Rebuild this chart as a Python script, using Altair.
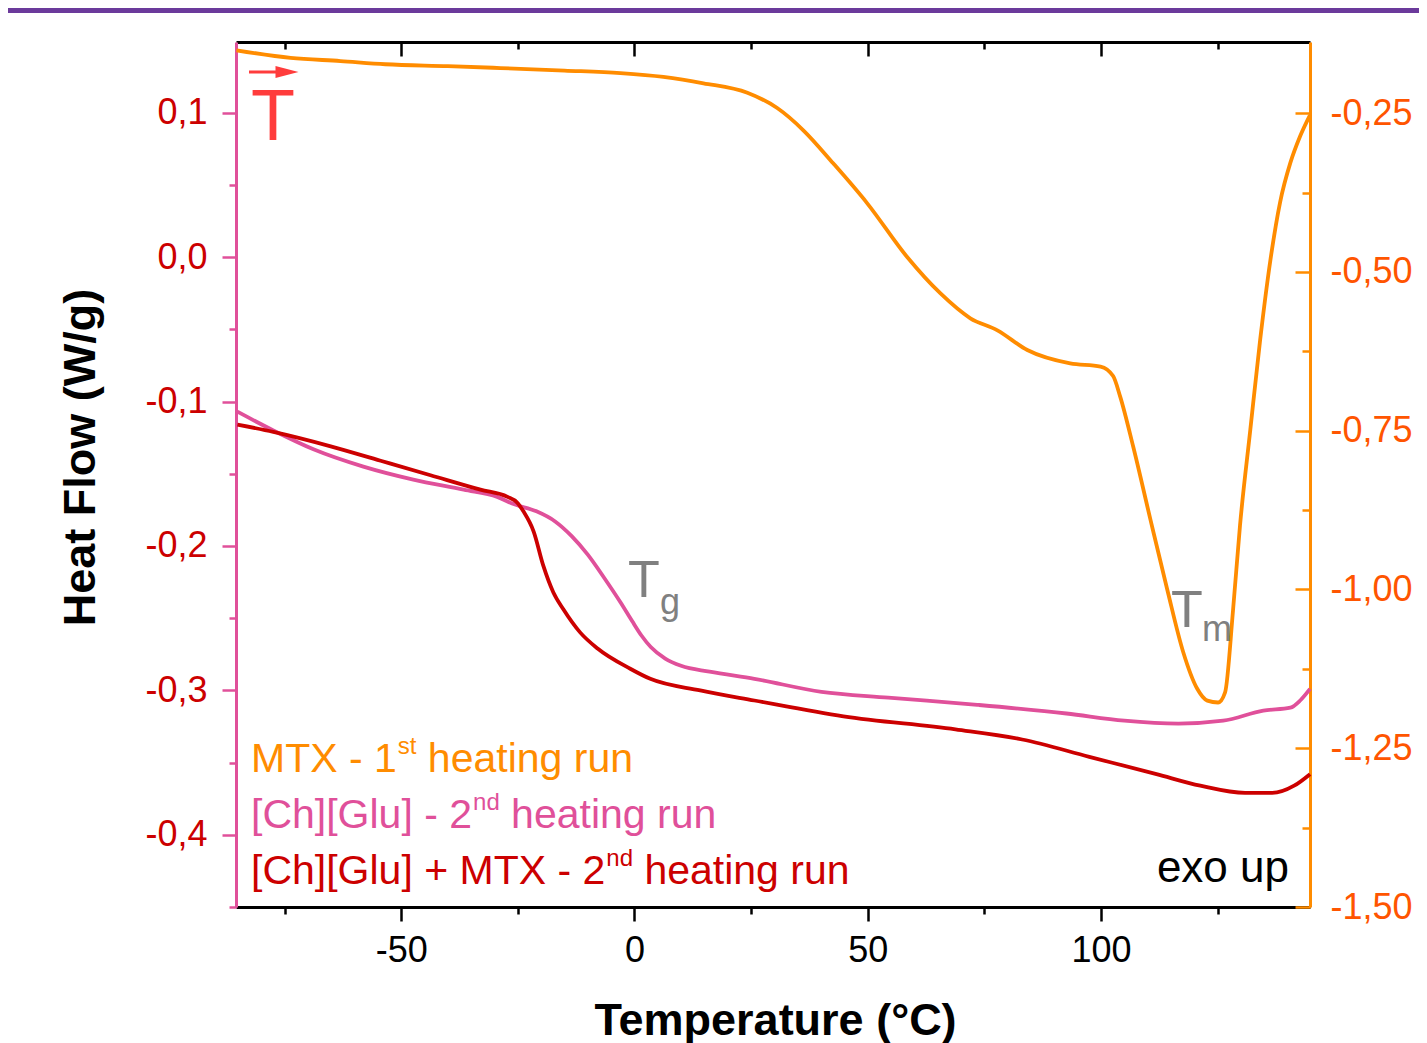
import altair as alt
import pandas as pd

# ---------------- data ----------------
T_MTX = [-85.3, -73.7, -63.0, -53.4, -40.0, -28.7, -15.0, -3.0, 6.2, 14.8, 24.2, 30.6,
         36.2, 42.6, 49.9, 58.5, 65.6, 72.0, 77.8, 84.2, 93.4, 99.9, 102.6, 104.1, 106.9,
         110.6, 114.2, 117.6, 120.6, 122.8, 125.1, 126.6, 128.3, 129.8, 132.0, 134.1,
         136.3, 138.4, 140.6, 142.7, 144.8]
HF_MTX = [-0.151, -0.163, -0.168, -0.173, -0.176, -0.179, -0.183, -0.187, -0.193, -0.203,
          -0.218, -0.242, -0.277, -0.329, -0.392, -0.477, -0.534, -0.573, -0.592, -0.623,
          -0.644, -0.649, -0.664, -0.696, -0.775, -0.890, -1.000, -1.098, -1.156, -1.175,
          -1.178, -1.162, -1.033, -0.899, -0.749, -0.608, -0.482, -0.390, -0.328, -0.286,
          -0.253]

T_CHGLU = [-85.1, -77.4, -68.8, -58.1, -47.4, -36.6, -29.4, -25.9, -21.0, -17.0, -13.5,
           -10.0, -6.5, -3.0, -0.5, 1.5, 3.5, 6.6, 10.0, 16.1, 25.7, 40.1, 54.4, 73.5,
           92.6, 105.0, 116.6, 126.2, 134.8, 140.6, 142.7, 144.8]
HF_CHGLU = [-0.107, -0.120, -0.133, -0.145, -0.154, -0.161, -0.166, -0.171, -0.176, -0.183,
            -0.193, -0.206, -0.222, -0.239, -0.252, -0.262, -0.270, -0.278, -0.283, -0.287,
            -0.292, -0.301, -0.305, -0.310, -0.316, -0.321, -0.323, -0.321, -0.314, -0.312,
            -0.307, -0.299]

T_MIX = [-85.1, -77.4, -65.1, -54.4, -43.7, -33.0, -27.2, -25.1, -23.8, -21.6, -19.5,
         -17.4, -15.2, -11.6, -7.9, -0.9, 3.4, 14.1, 25.7, 44.8, 68.8, 83.1, 97.5, 111.9,
         121.3, 130.9, 136.7, 141.4, 144.8]
HF_MIX = [-0.116, -0.121, -0.131, -0.141, -0.151, -0.161, -0.166, -0.170, -0.176, -0.190,
          -0.214, -0.232, -0.244, -0.260, -0.271, -0.285, -0.292, -0.300, -0.307, -0.318,
          -0.327, -0.334, -0.346, -0.358, -0.366, -0.371, -0.371, -0.366, -0.358]

X_MAJOR = [-50, 0, 50, 100]
X_MINOR = [-75, -25, 25, 75, 125]
YL_MAJOR = [-0.4, -0.3, -0.2, -0.1, 0.0, 0.1]
YL_MINOR = [-0.45, -0.35, -0.25, -0.15, -0.05, 0.05]
YR_MAJOR = [-1.5, -1.25, -1.0, -0.75, -0.5, -0.25]
YR_MINOR = [-1.375, -1.125, -0.875, -0.625, -0.375]

LEGEND = [
    ("MTX - 1", "st", "heating run"),
    ("[Ch][Glu] - 2", "nd", "heating run"),
    ("[Ch][Glu] + MTX - 2", "nd", "heating run"),
]

# ---------------- styling ----------------
W, H = 1074, 865
FONT = "Liberation Sans"
ORANGE = "#FF8C00"
PINK = "#E0509A"
RED = "#CC0000"
LLAB = "#CC0000"
RLAB = "#FF5500"
GRAY = "#808080"
TRED = "#FF3C3C"
LW = 3.8

AW = {' ': 278, '-': 333, '1': 556, '2': 556, 'M': 833, 'T': 611, 'X': 667, '[': 278,
      ']': 278, 'C': 722, 'h': 556, 'G': 778, 'l': 222, 'u': 556, '+': 584, 'e': 556,
      'a': 556, 't': 278, 'i': 222, 'n': 556, 'g': 556, 'r': 333, 's': 500, 'd': 556}


def tw(s, size):
    return sum(AW.get(c, 556) for c in s) * size / 1000.0


xscale = alt.Scale(domain=[-85.4, 144.8], nice=False, zero=False)
ylscale = alt.Scale(domain=[-0.45, 0.149], nice=False, zero=False)
yrscale = alt.Scale(domain=[-1.5, -0.138], nice=False, zero=False)

xlab = "(datum.value < 0 ? '-' : '') + format(abs(datum.value), 'd')"
yllab = "(datum.value < -1e-9 ? '-' : '') + replace(format(abs(datum.value), '.1f'), '.', ',')"
yrlab = "(datum.value < -1e-9 ? '-' : '') + replace(format(abs(datum.value), '.2f'), '.', ',')"

ax_bottom_major = alt.Axis(orient="bottom", values=X_MAJOR, tickSize=14, tickWidth=2.5,
                           tickColor="black", domainColor="black", domainWidth=3,
                           labelFont=FONT, labelFontSize=36, labelColor="black",
                           labelPadding=12, labelExpr=xlab, grid=False,
                           title="Temperature (°C)", titleFont=FONT, titleFontSize=45,
                           titleFontWeight="bold", titleColor="black", titleX=539,
                           titleY=127, titleAlign="center", titleBaseline="alphabetic")
ax_bottom_minor = alt.Axis(orient="bottom", values=X_MINOR, tickSize=7, tickWidth=2.5,
                           tickColor="black", domain=False, labels=False, grid=False,
                           title=None)
ax_top_major = alt.Axis(orient="bottom", offset=-H, values=X_MAJOR, tickSize=14,
                        tickWidth=2.5, tickColor="black", domainColor="black",
                        domainWidth=3, labels=False, grid=False, title=None)
ax_top_minor = alt.Axis(orient="bottom", offset=-H, values=X_MINOR, tickSize=7,
                        tickWidth=2.5, tickColor="black", domain=False, labels=False,
                        grid=False, title=None)

ay_left_major = alt.Axis(orient="left", values=YL_MAJOR, tickSize=14, tickWidth=2.5,
                         tickColor=PINK, domainColor=PINK, domainWidth=3, labelFont=FONT,
                         labelFontSize=36, labelColor=LLAB, labelPadding=15,
                         labelExpr=yllab, grid=False, title="Heat Flow (W/g)",
                         titleFont=FONT, titleFontSize=45, titleFontWeight="bold",
                         titleColor="black", titleAngle=270, titleX=-142, titleY=415,
                         titleAlign="center", titleBaseline="alphabetic")
ay_left_minor = alt.Axis(orient="left", values=YL_MINOR, tickSize=7, tickWidth=2.5,
                         tickColor=PINK, domain=False, labels=False, grid=False,
                         title=None)
ay_right_labels = alt.Axis(orient="right", values=YR_MAJOR, ticks=False, tickSize=0,
                           domainColor=ORANGE, domainWidth=3, labelFont=FONT,
                           labelFontSize=36, labelColor=RLAB, labelPadding=20,
                           labelExpr=yrlab, grid=False, title=None)
ay_right_in_major = alt.Axis(orient="left", offset=-W, values=YR_MAJOR, tickSize=15,
                             tickWidth=2.5, tickColor=ORANGE, domain=False, labels=False,
                             grid=False, title=None)
ay_right_in_minor = alt.Axis(orient="left", offset=-W, values=YR_MINOR, tickSize=8,
                             tickWidth=2.5, tickColor=ORANGE, domain=False, labels=False,
                             grid=False, title=None)

df_mtx = pd.DataFrame({"T": T_MTX, "HF": HF_MTX})
df_chglu = pd.DataFrame({"T": T_CHGLU, "HF": HF_CHGLU})
df_mix = pd.DataFrame({"T": T_MIX, "HF": HF_MIX})

pink = alt.Chart(df_chglu).mark_line(color=PINK, strokeWidth=LW, interpolate="monotone").encode(
    x=alt.X("T:Q", scale=xscale, axis=ax_bottom_major),
    y=alt.Y("HF:Q", scale=ylscale, axis=ay_left_major))
red = alt.Chart(df_mix).mark_line(color=RED, strokeWidth=LW, interpolate="monotone").encode(
    x=alt.X("T:Q", scale=xscale, axis=ax_bottom_minor),
    y=alt.Y("HF:Q", scale=ylscale, axis=ay_left_minor))
left = alt.layer(pink, red).resolve_axis(x="independent", y="independent")

orange = alt.Chart(df_mtx).mark_line(color=ORANGE, strokeWidth=LW, interpolate="monotone").encode(
    x=alt.X("T:Q", scale=xscale, axis=ax_top_major),
    y=alt.Y("HF:Q", scale=yrscale, axis=ay_right_labels))
o2 = alt.Chart(df_mtx).mark_line(opacity=0).encode(
    x=alt.X("T:Q", scale=xscale, axis=ax_top_minor),
    y=alt.Y("HF:Q", scale=yrscale, axis=ay_right_in_major))
o3 = alt.Chart(df_mtx).mark_line(opacity=0).encode(
    x=alt.X("T:Q", scale=xscale, axis=None),
    y=alt.Y("HF:Q", scale=yrscale, axis=ay_right_in_minor))
right = alt.layer(orange, o2, o3).resolve_axis(x="independent", y="independent")

one = pd.DataFrame({"k": [0]})


def label(text, x, y, size, color, align="left", weight="normal"):
    return alt.Chart(one).mark_text(align=align, baseline="alphabetic", font=FONT,
                                    fontSize=size, color=color, fontWeight=weight).encode(
        x=alt.value(x), y=alt.value(y), text=alt.value(text))


ann = []
# legend-like text block
LEG_COLORS = [ORANGE, PINK, RED]
LEG_BASE = [730, 786, 842]
FS, SS, RAISE = 41, 24, 18
for (a, s, b), col, yb in zip(LEGEND, LEG_COLORS, LEG_BASE):
    x0 = 15
    x1 = x0 + tw(a, FS) + 1
    x2 = x1 + tw(s, SS) + tw(" ", FS)
    ann += [label(a, x0, yb, FS, col), label(s, x1, yb - RAISE, SS, col),
            label(b, x2, yb, FS, col)]

ann.append(label("exo up", 1053, 840, 44, "black", align="right"))
ann += [label("T", 392, 555, 52, GRAY), label("g", 424, 572, 36, GRAY)]
ann += [label("T", 935, 585, 52, GRAY), label("m", 966, 599, 36, GRAY)]
ann.append(label("T", 15, 98, 72, TRED))

arrow_shaft = alt.Chart(one).mark_rule(color=TRED, strokeWidth=3).encode(
    x=alt.value(13), x2=alt.value(46), y=alt.value(30))
arrow_head = alt.Chart(one).mark_point(shape="M-1,-0.52L1,0L-1,0.52Z", filled=True,
                                       color=TRED, opacity=1, size=529).encode(
    x=alt.value(51), y=alt.value(30))
top_band = alt.Chart(one).mark_rule(color="#6B3A9B", strokeWidth=5).encode(
    x=alt.value(-236), x2=alt.value(1427 - 236), y=alt.value(-31.5))

chart = alt.layer(left, right, *ann, arrow_shaft, arrow_head, top_band).resolve_scale(
    y="independent").resolve_axis(x="independent").properties(
    width=W, height=H, autosize=alt.AutoSizeParams(type="none"),
    padding={"left": 228, "top": 34, "right": 109, "bottom": 136},
    background="white").configure_view(strokeWidth=0)

chart.save("out.html", embed_options={"renderer": "svg", "actions": False})
